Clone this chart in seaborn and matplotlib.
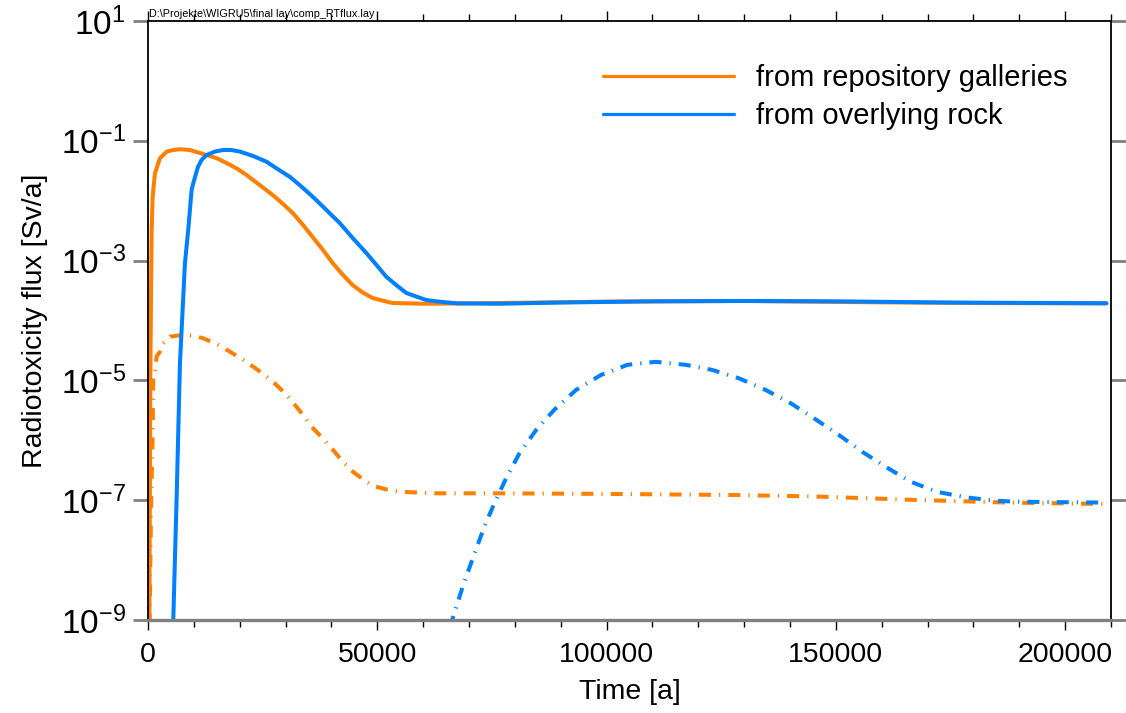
import numpy as np
import pandas as pd
import matplotlib
matplotlib.use("Agg")
import matplotlib.pyplot as plt
from matplotlib.ticker import MultipleLocator, FixedLocator, NullLocator
import seaborn as sns

# ---------------- data ----------------
# Time [a] and log10 of radiotoxicity flux [Sv/a]
rep_t = [0, 300, 500, 700, 800, 1020, 1520, 2610, 4100, 5510, 6970, 9140, 12770, 14950,
         17120, 19300, 21470, 24380, 27200, 29460, 31560, 33810, 35900, 38160, 40260,
         42520, 44600, 46870, 48980, 51230, 53330, 59860, 70000, 80000, 100000, 130000,
         150000, 165000, 185000, 209000]
rep_log = [-12, -9, -5, -3.2, -2.49, -1.93, -1.54, -1.29, -1.18, -1.154, -1.14, -1.154,
           -1.237, -1.29, -1.37, -1.46, -1.57, -1.74, -1.905, -2.055, -2.205, -2.406,
           -2.606, -2.823, -3.04, -3.24, -3.407, -3.535, -3.624, -3.67, -3.708, -3.72,
           -3.715, -3.705, -3.685, -3.674, -3.69, -3.70, -3.71, -3.713]

rock_t = [5000, 5510, 6250, 6970, 8050, 8770, 9510, 9860, 10890, 11690, 12780, 14590,
          16330, 18220, 20030, 22920, 25840, 28020, 30900, 33090, 35920, 38900, 41800,
          44700, 47610, 49790, 51970, 54150, 56320, 58500, 60670, 63570, 67200, 76630,
          90000, 110000, 130000, 150000, 175000, 209000]
rock_log = [-12, -9, -6.94, -4.71, -3.05, -2.49, -1.82, -1.71, -1.437, -1.32, -1.237,
            -1.18, -1.154, -1.154, -1.18, -1.254, -1.349, -1.46, -1.6, -1.74, -1.933,
            -2.155, -2.372, -2.628, -2.873, -3.07, -3.27, -3.41, -3.54, -3.60, -3.658,
            -3.686, -3.713, -3.72, -3.70, -3.68, -3.674, -3.68, -3.70, -3.713]

rep2_t = [0, 350, 700, 1000, 1150, 1520, 1890, 2610, 3330, 4790, 6250, 7680, 9860, 12040,
          14950, 17850, 20400, 22920, 25470, 28020, 30190, 32370, 34170, 35990, 38160,
          40340, 42520, 44690, 46870, 49050, 51960, 54860, 62110, 76630, 100000, 127800,
          146300, 168000, 187700, 205700, 209000]
rep2_log = [-12, -9, -7, -6, -4.88, -4.826, -4.60, -4.52, -4.38, -4.27, -4.254, -4.242,
            -4.254, -4.297, -4.39, -4.52, -4.64, -4.77, -4.91, -5.077, -5.24, -5.44,
            -5.61, -5.80, -5.97, -6.16, -6.36, -6.525, -6.65, -6.76, -6.82, -6.858,
            -6.885, -6.885, -6.895, -6.913, -6.94, -6.997, -7.04, -7.06, -7.065]

rock2_t = [0, 250, 60000, 64000, 66460, 68640, 71190, 73360, 75540, 78090, 80980, 84620,
           88600, 93330, 98770, 104560, 110740, 117270, 123070, 128880, 134700, 140130,
           145570, 150650, 155720, 160810, 166260, 172050, 178220, 184770, 190000,
           196000, 202000, 209000]
rock2_log = [-6.85, -12, -12, -9.57, -8.97, -8.44, -7.89, -7.44, -7.05, -6.635, -6.22,
             -5.83, -5.49, -5.16, -4.91, -4.74, -4.69, -4.74, -4.826, -4.965, -5.16,
             -5.38, -5.65, -5.91, -6.19, -6.44, -6.69, -6.86, -6.95, -7.01, -7.025,
             -7.03, -7.035, -7.04]

labels = ["from repository galleries", "from overlying rock"]
xtick_vals = [0, 50000, 100000, 150000, 200000]
ytick_exp = [1, -1, -3, -5, -7, -9]
path_text = r"D:\Projekte\WIGRU5\final lay\comp_RTflux.lay"

ORANGE = "#FF8000"
BLUE = "#0080FF"

# ---------------- style ----------------
sns.set_theme(style="ticks")
plt.rcParams["font.family"] = ["Liberation Sans", "DejaVu Sans"]
plt.rcParams["mathtext.fontset"] = "custom"
plt.rcParams["mathtext.rm"] = "Liberation Sans"
plt.rcParams["mathtext.it"] = "Liberation Sans:italic"
plt.rcParams["mathtext.bf"] = "Liberation Sans:bold"
plt.rcParams["text.color"] = "black"
plt.rcParams["axes.labelcolor"] = "black"
plt.rcParams["xtick.labelcolor"] = "black"
plt.rcParams["ytick.labelcolor"] = "black"

fig = plt.figure(figsize=(11.26, 7.13), dpi=100)
ax = fig.add_axes([148 / 1126, 1 - 620 / 713, (1111 - 148) / 1126, (620 - 21) / 713])

def frame(t, lg):
    return pd.DataFrame({"t": np.asarray(t, float), "v": 10.0 ** np.asarray(lg, float)})

dashdot = (0, (3.0, 2.0, 0.3, 2.0))
lw = 2.9

sns.lineplot(data=frame(rep2_t, rep2_log), x="t", y="v", ax=ax, color=ORANGE, lw=lw,
             linestyle=dashdot, estimator=None, sort=False, dash_capstyle="butt")
sns.lineplot(data=frame(rock2_t, rock2_log), x="t", y="v", ax=ax, color=BLUE, lw=lw,
             linestyle=dashdot, estimator=None, sort=False, dash_capstyle="butt")
sns.lineplot(data=frame(rep_t, rep_log), x="t", y="v", ax=ax, color=ORANGE, lw=lw,
             estimator=None, sort=False, label=labels[0])
sns.lineplot(data=frame(rock_t, rock_log), x="t", y="v", ax=ax, color=BLUE, lw=lw,
             estimator=None, sort=False, label=labels[1])

ax.set_yscale("log")
ax.set_xlim(0, 210000)
ax.set_ylim(1e-9, 10)

# y ticks
ax.yaxis.set_major_locator(FixedLocator([10.0 ** e for e in ytick_exp]))
ax.yaxis.set_minor_locator(NullLocator())
ax.set_yticklabels([r"$\mathregular{10^{%d}}$" % e for e in ytick_exp])
ax.tick_params(axis="y", which="major", direction="out", length=11, width=2,
               color="#808080", labelsize=24, pad=5, left=True, right=True,
               labelcolor="black")

# x ticks
ax.xaxis.set_major_locator(FixedLocator(xtick_vals))
ax.xaxis.set_minor_locator(MultipleLocator(10000))
ax.set_xticklabels([str(v) for v in xtick_vals])
ax.tick_params(axis="x", which="major", direction="out", length=7.5, width=1,
               color="black", labelsize=20.5, pad=8, top=True, bottom=True,
               labelcolor="black")
ax.tick_params(axis="x", which="minor", direction="out", length=5, width=1,
               color="black", top=True, bottom=True)

for side in ["left", "right", "top"]:
    ax.spines[side].set_color("black")
    ax.spines[side].set_linewidth(1.3)
ax.spines["bottom"].set_color("#808080")
ax.spines["bottom"].set_linewidth(2.4)

ax.set_xlabel("Time [a]", fontsize=20.5, labelpad=8, color="black")
ax.set_ylabel("Radiotoxicity flux [Sv/a]", fontsize=20.5, labelpad=9, color="black")

leg = ax.legend(loc="upper left", bbox_to_anchor=(603 / 1126, 1 - 64 / 713),
                bbox_transform=fig.transFigure, frameon=False, fontsize=21,
                handlelength=4.5, handletextpad=0.75, labelspacing=0.36,
                borderpad=0, borderaxespad=0, labelcolor="black")
for h in leg.get_lines():
    h.set_linewidth(2.3)

fig.text(149 / 1126, 1 - 17 / 713, path_text, fontsize=7.8, va="baseline", ha="left",
         color="black")

fig.savefig("out.png", dpi=100)
